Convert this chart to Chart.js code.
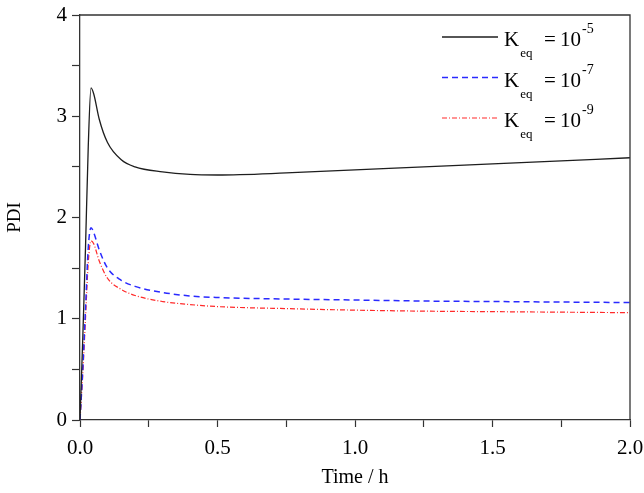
<!DOCTYPE html>
<html>
<head>
<meta charset="utf-8">
<script src="https://cdn.jsdelivr.net/npm/chart.js@4"></script>
<style>
  html, body { margin: 0; padding: 0; background: #fff; }
  #wrap { width: 644px; height: 493px; }
</style>
</head>
<body>
<div id="wrap"><canvas id="pdiChart" width="644" height="493"></canvas></div>
<script>
// Time axis (h) shared by all three curves
const timeValues = [0, 0.01, 0.02, 0.03, 0.04, 0.05, 0.07, 0.1, 0.15, 0.2, 0.3, 0.4, 0.5, 0.75, 1.0, 1.25, 1.5, 1.75, 2.0];

// PDI for each equilibrium constant
const pdiKeq5 = [0, 0.8, 1.7, 2.7, 3.28, 3.22, 2.97, 2.74, 2.57, 2.50, 2.45, 2.425, 2.42, 2.44, 2.47, 2.50, 2.53, 2.56, 2.59];
const pdiKeq7 = [0, 0.5, 1.1, 1.7, 1.90, 1.85, 1.68, 1.50, 1.38, 1.32, 1.26, 1.225, 1.21, 1.195, 1.185, 1.175, 1.17, 1.165, 1.16];
const pdiKeq9 = [0, 0.45, 1.0, 1.55, 1.77, 1.74, 1.57, 1.40, 1.29, 1.23, 1.17, 1.14, 1.12, 1.10, 1.085, 1.075, 1.07, 1.065, 1.06];

const seriesExponents = ['-5', '-7', '-9'];
const xTicks = [0, 0.5, 1.0, 1.5, 2.0];
const yTicks = [0, 1, 2, 3, 4];

const FONT = '"Liberation Serif", "Times New Roman", serif';

function toPoints(values) {
    return timeValues.map((t, i) => ({ x: t, y: values[i] }));
}

// frame on top/right plus the legend with sub/superscripts
const framePlugin = {
    id: 'frameAndLegend',
    afterDraw(chart) {
        const { ctx, chartArea } = chart;
        ctx.save();
        ctx.strokeStyle = '#333';
        ctx.lineWidth = 1.3;
        ctx.beginPath();
        ctx.moveTo(chartArea.left, chartArea.top);
        ctx.lineTo(chartArea.right, chartArea.top);
        ctx.lineTo(chartArea.right, chartArea.bottom);
        ctx.stroke();

        chart.data.datasets.forEach((ds, i) => {
            const y = chartArea.top + 22 + i * 40.5;
            const x0 = chartArea.right - 188;
            const x1 = chartArea.right - 132;
            ctx.strokeStyle = ds.borderColor;
            ctx.lineWidth = ds.borderWidth;
            ctx.setLineDash(ds.borderDash || []);
            ctx.beginPath();
            ctx.moveTo(x0, y);
            ctx.lineTo(x1, y);
            ctx.stroke();
            ctx.setLineDash([]);

            const start = chartArea.right - 126;
            const base = y + 9;
            ctx.fillStyle = '#000';
            ctx.textBaseline = 'alphabetic';
            ctx.textAlign = 'left';
            ctx.font = '21px ' + FONT;
            ctx.fillText('K', start, base);
            const kw = ctx.measureText('K').width;
            ctx.font = '13px ' + FONT;
            ctx.fillText('eq', start + kw + 1, base + 11);
            ctx.font = '21px ' + FONT;
            ctx.fillText('=', start + 40, base);
            ctx.fillText('10', start + 56, base);
            const tw = ctx.measureText('10').width;
            ctx.font = '14px ' + FONT;
            ctx.fillText(seriesExponents[i], start + 56 + tw + 1, base - 13);
        });
        ctx.restore();
    }
};

function initPdiChart() {
    const ctx = document.getElementById('pdiChart').getContext('2d');

    const data = {
        datasets: [
            {
                label: 'Keq = 10^-5',
                data: toPoints(pdiKeq5),
                borderColor: '#1e1e1e',
                borderWidth: 1.3
            },
            {
                label: 'Keq = 10^-7',
                data: toPoints(pdiKeq7),
                borderColor: '#2a2aff',
                borderWidth: 1.5,
                borderDash: [6, 4]
            },
            {
                label: 'Keq = 10^-9',
                data: toPoints(pdiKeq9),
                borderColor: '#ff2a2a',
                borderWidth: 1.2,
                borderDash: [5, 2, 1, 2]
            }
        ]
    };

    const config = {
        type: 'line',
        data: data,
        options: {
            responsive: false,
            animation: false,
            layout: { padding: { top: 15, right: 14, left: 0, bottom: 0 } },
            elements: {
                point: { radius: 0 },
                line: { cubicInterpolationMode: 'monotone', fill: false }
            },
            plugins: {
                legend: { display: false },
                tooltip: { enabled: false }
            },
            scales: {
                x: {
                    type: 'linear',
                    min: 0,
                    max: 2,
                    afterFit: scale => {
                        scale.height = 73;
                        scale.paddingLeft = 0;
                        scale.paddingRight = 0;
                    },
                    afterBuildTicks: scale => {
                        const t = [];
                        for (let v = 0; v <= 2.0001; v += 0.25) t.push({ value: Math.round(v * 100) / 100 });
                        scale.ticks = t;
                    },
                    ticks: {
                        autoSkip: false,
                        maxRotation: 0,
                        padding: 9,
                        color: '#000',
                        font: { family: FONT, size: 21 },
                        callback: v => xTicks.includes(v) ? v.toFixed(1) : ''
                    },
                    grid: {
                        drawOnChartArea: false,
                        tickLength: 7,
                        tickColor: '#333',
                        tickWidth: 1.2
                    },
                    border: { color: '#333', width: 1.3 },
                    title: {
                        display: true,
                        text: 'Time / h',
                        color: '#000',
                        font: { family: FONT, size: 20 },
                        padding: { top: 0, bottom: 3 }
                    }
                },
                y: {
                    min: 0,
                    max: 4,
                    afterFit: scale => {
                        scale.width = 80;
                        scale.paddingTop = 0;
                        scale.paddingBottom = 0;
                    },
                    afterBuildTicks: scale => {
                        const t = [];
                        for (let v = 0; v <= 4.0001; v += 0.5) t.push({ value: v });
                        scale.ticks = t;
                    },
                    ticks: {
                        autoSkip: false,
                        padding: 5,
                        color: '#000',
                        font: { family: FONT, size: 21 },
                        callback: v => yTicks.includes(v) ? String(v) : ''
                    },
                    grid: {
                        drawOnChartArea: false,
                        tickLength: 8,
                        tickColor: '#333',
                        tickWidth: 1.2
                    },
                    border: { color: '#333', width: 1.3 },
                    title: {
                        display: true,
                        text: 'PDI',
                        color: '#000',
                        font: { family: FONT, size: 19 },
                        padding: { bottom: 14 }
                    }
                }
            }
        },
        plugins: [framePlugin]
    };

    new Chart(ctx, config);
}

initPdiChart();
</script>
</body>
</html>
